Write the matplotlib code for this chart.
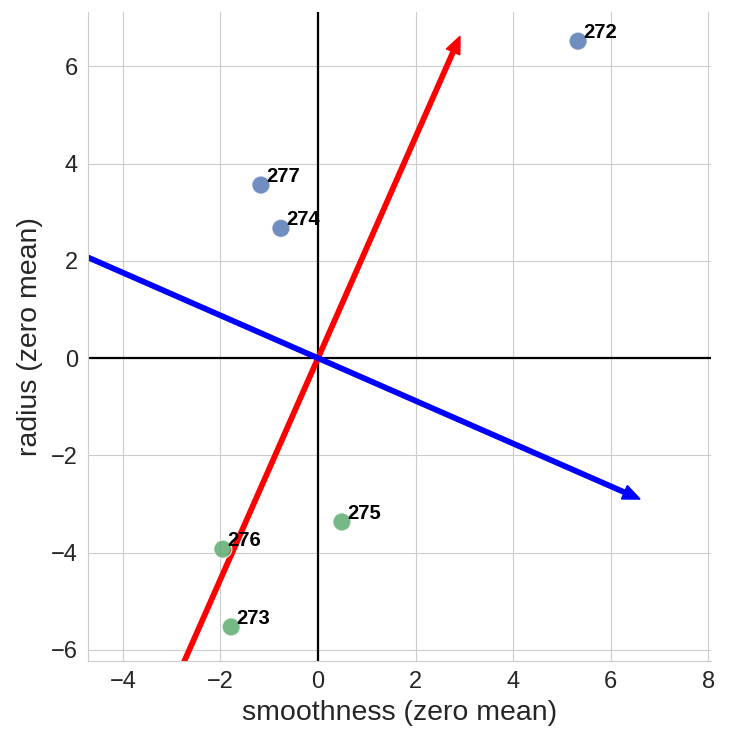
import matplotlib
matplotlib.use("Agg")
import matplotlib.pyplot as plt
import seaborn as sns
import numpy as np

ids = ["272", "277", "274", "275", "276", "273"]
smooth = [5.33, -1.17, -0.76, 0.49, -1.95, -1.78]
radius = [6.52, 3.56, 2.67, -3.37, -3.93, -5.53]
group = [0, 0, 0, 1, 1, 1]
pc1 = (2.91, 6.62)
pc2 = (6.60, -2.90)

sns.set_style("whitegrid")
plt.rcParams['font.family'] = ['Liberation Sans', 'DejaVu Sans']

fig = plt.figure(figsize=(7.31, 7.35), dpi=100)
ax = fig.add_axes([0.120, 0.1007, 0.853, 0.883])

pal = sns.color_palette("deep")
cols = [pal[0] if g == 0 else pal[2] for g in group]
ax.scatter(smooth, radius, s=170, c=cols, alpha=0.8, edgecolors='white', linewidths=0.8, zorder=3)
for x, y, t in zip(smooth, radius, ids):
    ax.text(x + 0.1, y + 0.07, t, fontsize=14.5, fontweight='bold', color='black', zorder=4)

ax.axhline(0, color='black', lw=1.6, zorder=2)
ax.axvline(0, color='black', lw=1.6, zorder=2)

for v, c in ((pc1, 'red'), (pc2, 'blue')):
    ax.arrow(-v[0], -v[1], 2 * v[0], 2 * v[1], width=0.09, head_width=0.3, head_length=0.35,
             length_includes_head=True, color=c, zorder=2.5)

ax.set_xlim(-4.72, 8.06)
ax.set_ylim(-6.23, 7.12)
ax.set_xticks([-4, -2, 0, 2, 4, 6, 8])
ax.set_yticks([-6, -4, -2, 0, 2, 4, 6])
ax.tick_params(labelsize=17)
ax.set_xlabel("smoothness (zero mean)", fontsize=20.5, labelpad=5)
ax.set_ylabel("radius (zero mean)", fontsize=20.5, labelpad=6)
sns.despine(ax=ax)

fig.savefig("out.png", dpi=100)
